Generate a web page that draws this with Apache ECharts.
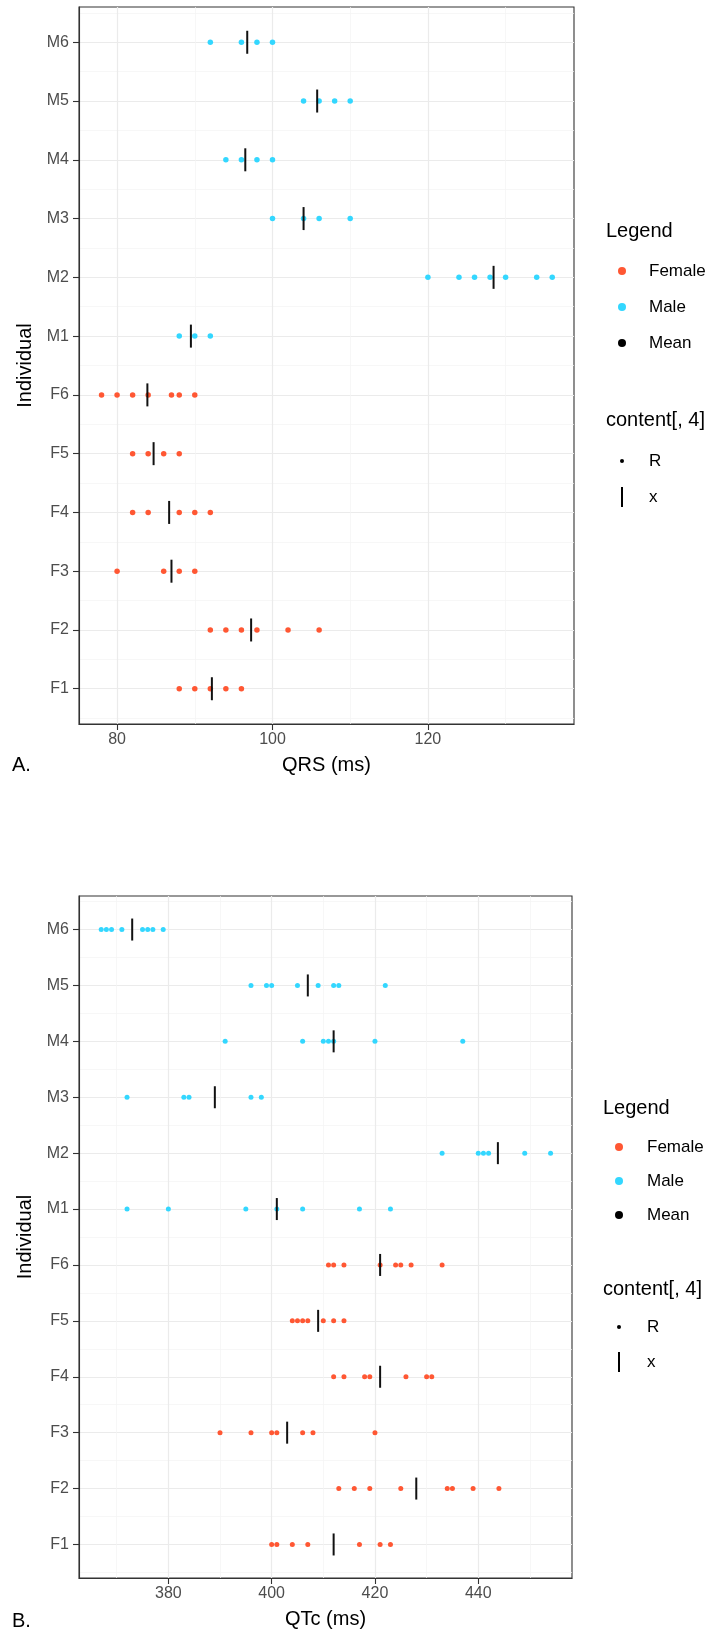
<!DOCTYPE html>
<html><head><meta charset="utf-8">
<script src="https://cdn.jsdelivr.net/npm/echarts@6.0.0/dist/echarts.min.js"></script>
<style>html,body{margin:0;padding:0;background:#fff}#chart{width:724px;height:1630px}</style>
</head><body><div id="chart"></div>
<script>
// ---------- data ----------
const individuals = ['F1','F2','F3','F4','F5','F6','M1','M2','M3','M4','M5','M6'];

// Panel A: QRS (ms)
const qrsFemale = [
  [88, 90, 92, 94, 96],              // F1
  [92, 94, 96, 98, 102, 106],        // F2
  [80, 86, 88, 90],                  // F3
  [82, 84, 88, 90, 92],              // F4
  [82, 84, 86, 88],                  // F5
  [78, 80, 82, 84, 87, 88, 90]       // F6
];
const qrsMale = [
  [88, 90, 92],                          // M1
  [120, 124, 126, 128, 130, 134, 136],   // M2
  [100, 104, 106, 110],                  // M3
  [94, 96, 98, 100],                     // M4
  [104, 106, 108, 110],                  // M5
  [92, 96, 98, 100]                      // M6
];
const qrsMean = [92.2, 97.25, 87.0, 86.7, 84.7, 83.9, 89.5, 128.45, 104.0, 96.5, 105.75, 96.75];
const qrsTicks = [80, 100, 120];
const qrsMinorTicks = [90, 110, 130];

// Panel B: QTc (ms)
const qtcFemale = [
  [400, 401, 404, 407, 417, 421, 423],        // F1
  [413, 416, 419, 425, 434, 435, 439, 444],   // F2
  [390, 396, 400, 401, 406, 408, 420],        // F3
  [412, 414, 418, 419, 426, 430, 431],        // F4
  [404, 405, 406, 407, 410, 412, 414],        // F5
  [411, 412, 414, 421, 424, 425, 427, 433]    // F6
];
const qtcMale = [
  [372, 380, 395, 401, 406, 417, 423],        // M1
  [433, 440, 441, 442, 449, 454],             // M2
  [372, 383, 384, 396, 398],                  // M3
  [391, 406, 410, 411, 412, 420, 437],        // M4
  [396, 399, 400, 405, 409, 412, 413, 422],   // M5
  [367, 368, 369, 371, 375, 376, 377, 379]    // M6
];
const qtcMean = [412, 428, 403, 421, 409, 421, 401, 443.8, 389, 412, 407, 373];
const qtcTicks = [380, 400, 420, 440];
const qtcMinorTicks = [370, 390, 410, 430, 450];

// ---------- styling ----------
const FONT = '"Liberation Sans", Arial, Helvetica, sans-serif';
const FEMALE = '#FF5733';
const MALE = '#33D7FF';
const BORDER = '#333333';
const GRID_MAJOR = '#EBEBEB';
const GRID_MINOR = '#F3F3F3';

const yIdx = individuals.map((_, i) => i);
const yMinorIdx = individuals.map((_, i) => i - 0.5).concat([individuals.length - 0.5]);

function points(groups, offset) {
  const out = [];
  groups.forEach((vals, i) => vals.forEach(v => out.push([v, i + offset])));
  return out;
}
function meanPoints(means) { return means.map((v, i) => [v, i]); }

function xMain(gridIndex, min, max, ticks, name) {
  return {
    type: 'value', gridIndex, min, max, position: 'bottom',
    axisLine: { show: true, onZero: false, lineStyle: { color: BORDER, width: 1.1 } },
    axisTick: { show: true, length: 6, customValues: ticks, lineStyle: { color: BORDER, width: 1.1 } },
    axisLabel: { customValues: ticks, color: '#4D4D4D', fontSize: 16, margin: 8, fontFamily: FONT },
    splitLine: { show: true, lineStyle: { color: GRID_MAJOR, width: 1.2 } },
    name, nameLocation: 'middle', nameGap: 31,
    nameTextStyle: { color: '#000', fontSize: 20, fontFamily: FONT }
  };
}
function xMinor(gridIndex, min, max, ticks) {
  return {
    type: 'value', gridIndex, min, max, position: 'bottom',
    axisLine: { show: false }, axisLabel: { show: false },
    axisTick: { show: false, customValues: ticks },
    splitLine: { show: true, lineStyle: { color: GRID_MINOR, width: 0.7 } }
  };
}
function yMain(gridIndex) {
  return {
    type: 'value', gridIndex, min: -0.6, max: individuals.length - 0.4,
    axisLine: { show: true, onZero: false, lineStyle: { color: BORDER, width: 1.1 } },
    axisTick: { show: true, length: 6, customValues: yIdx, lineStyle: { color: BORDER, width: 1.1 } },
    axisLabel: { customValues: yIdx, color: '#4D4D4D', fontSize: 16, margin: 10, fontFamily: FONT,
      formatter: v => individuals[Math.round(v)] },
    splitLine: { show: true, lineStyle: { color: GRID_MAJOR, width: 1.2 } },
    name: 'Individual', nameLocation: 'middle', nameGap: 38,
    nameTextStyle: { color: '#000', fontSize: 20, fontFamily: FONT }
  };
}
function yMinor(gridIndex) {
  return {
    type: 'value', gridIndex, min: -0.6, max: individuals.length - 0.4, position: 'left',
    axisLine: { show: false }, axisLabel: { show: false },
    axisTick: { show: false, customValues: yMinorIdx },
    splitLine: { show: true, lineStyle: { color: GRID_MINOR, width: 0.7 } }
  };
}

function panelSeries(female, male, means, xi, yi, dot, barLen) {
  return [
    { name: 'Female', type: 'scatter', xAxisIndex: xi, yAxisIndex: yi, symbol: 'circle', symbolSize: dot,
      itemStyle: { color: FEMALE, opacity: 1 }, data: points(female, 0), z: 3, silent: true },
    { name: 'Male', type: 'scatter', xAxisIndex: xi, yAxisIndex: yi, symbol: 'circle', symbolSize: dot,
      itemStyle: { color: MALE, opacity: 1 }, data: points(male, female.length), z: 3, silent: true },
    { name: 'Mean', type: 'scatter', xAxisIndex: xi, yAxisIndex: yi, symbol: 'rect', symbolSize: [2, barLen],
      itemStyle: { color: '#111', opacity: 1 }, data: meanPoints(means), z: 4, silent: true }
  ];
}

function legendGraphics(o) {
  const g = [];
  const t = (text, x, y, size) => ({ type: 'text', x, y, silent: true,
    style: { text, fill: '#000', font: size + 'px ' + FONT, textVerticalAlign: 'middle', textAlign: 'left' } });
  g.push(t('Legend', o.titleX, o.titleY, 20));
  const cols = [FEMALE, MALE, '#000'];
  ['Female', 'Male', 'Mean'].forEach((lab, i) => {
    g.push({ type: 'circle', silent: true, shape: { cx: o.dotX, cy: o.items[i], r: 4 }, style: { fill: cols[i] } });
    g.push(t(lab, o.textX, o.items[i], 17));
  });
  g.push(t('content[, 4]', o.titleX, o.title2Y, 20));
  g.push({ type: 'circle', silent: true, shape: { cx: o.dotX, cy: o.items2[0], r: 2 }, style: { fill: '#000' } });
  g.push(t('R', o.textX, o.items2[0], 17));
  g.push({ type: 'rect', silent: true, shape: { x: o.dotX - 1, y: o.items2[1] - 10, width: 2, height: 20 }, style: { fill: '#000' } });
  g.push(t('x', o.textX, o.items2[1], 17));
  g.push(t(o.tag, 12, o.tagY, 20));
  return g;
}

const option = {
  animation: false,
  backgroundColor: '#fff',
  textStyle: { fontFamily: FONT },
  grid: [
    { left: 79, top: 7, width: 495, height: 717, show: true, borderColor: BORDER, borderWidth: 1.1, backgroundColor: 'transparent' },
    { left: 79, top: 896, width: 493, height: 682, show: true, borderColor: BORDER, borderWidth: 1.1, backgroundColor: 'transparent' }
  ],
  xAxis: [
    xMain(0, 75.1, 138.8, qrsTicks, 'QRS (ms)'),
    xMinor(0, 75.1, 138.8, qrsMinorTicks),
    xMain(1, 362.7, 458.15, qtcTicks, 'QTc (ms)'),
    xMinor(1, 362.7, 458.15, qtcMinorTicks)
  ],
  yAxis: [yMain(0), yMinor(0), yMain(1), yMinor(1)],
  series: [
    ...panelSeries(qrsFemale, qrsMale, qrsMean, 0, 0, 5.5, 23),
    ...panelSeries(qtcFemale, qtcMale, qtcMean, 2, 2, 5, 22)
  ],
  graphic: [
    ...legendGraphics({ titleX: 606, titleY: 231, dotX: 622, textX: 649, items: [271, 307, 343],
      title2Y: 420, items2: [461, 497], tag: 'A.', tagY: 765 }),
    ...legendGraphics({ titleX: 603, titleY: 1108, dotX: 619, textX: 647, items: [1147, 1181, 1215],
      title2Y: 1289, items2: [1327, 1362], tag: 'B.', tagY: 1621 })
  ]
};

const chart = echarts.init(document.getElementById('chart'), null, { renderer: 'canvas', width: 724, height: 1630 });
chart.setOption(option);
</script>
</body></html>
